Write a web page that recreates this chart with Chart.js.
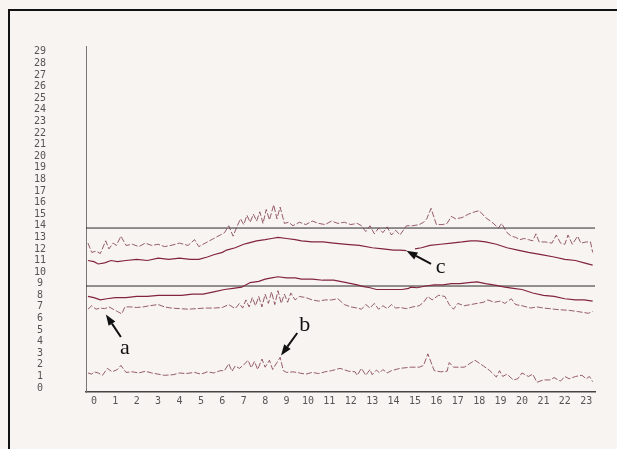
<!DOCTYPE html>
<html>
<head>
<meta charset="utf-8">
<script src="https://cdn.jsdelivr.net/npm/chart.js@4/dist/chart.umd.min.js"></script>
<style>
  html, body { margin: 0; padding: 0; background: #f8f4f2; }
  #wrap { width: 617px; height: 449px; position: relative; }
</style>
</head>
<body>
<div id="wrap"><canvas id="chart" width="617" height="449"></canvas></div>
<script>
// hours on the x axis, values as [hour, value]
const hourTicks = [0,1,2,3,4,5,6,7,8,9,10,11,12,13,14,15,16,17,18,19,20,21,22,23];
const valueTicks = [0,1,2,3,4,5,6,7,8,9,10,11,12,13,14,15,16,17,18,19,20,21,22,23,24,25,26,27,28,29];
const limitValues = [13.8, 8.8];

const upperNoisy = [[-0.28,12.5],[-0.1,11.7],[0.1,11.8],[0.3,11.6],[0.55,12.7],[0.7,12.0],[0.9,12.5],[1.05,12.3],[1.26,13.1],[1.5,12.3],[1.8,12.4],[2.1,12.2],[2.4,12.5],[2.7,12.3],[3.0,12.4],[3.3,12.2],[3.6,12.3],[4.0,12.5],[4.4,12.3],[4.7,12.8],[4.9,12.2],[5.3,12.6],[5.6,12.9],[5.9,13.2],[6.1,13.4],[6.3,14.0],[6.5,13.1],[6.7,14.0],[6.85,14.6],[7.0,14.1],[7.15,14.9],[7.3,14.3],[7.45,15.0],[7.6,14.4],[7.75,15.2],[7.9,14.2],[8.05,15.4],[8.2,14.5],[8.4,15.8],[8.55,14.6],[8.7,15.6],[8.9,14.2],[9.1,14.3],[9.3,14.0],[9.6,14.3],[9.9,14.1],[10.2,14.4],[10.5,14.2],[10.8,14.1],[11.1,14.4],[11.4,14.2],[11.7,14.3],[12.0,14.1],[12.3,14.2],[12.5,14.0],[12.7,13.5],[12.9,14.0],[13.1,13.3],[13.3,13.8],[13.5,13.4],[13.7,13.9],[13.9,13.2],[14.1,13.6],[14.3,13.2],[14.6,14.0],[14.9,14.0],[15.2,14.1],[15.4,14.3],[15.55,14.6],[15.75,15.5],[16.0,14.1],[16.3,14.1],[16.5,14.2],[16.7,14.8],[16.9,14.6],[17.2,14.7],[17.5,15.0],[17.8,15.2],[18.0,15.3],[18.3,14.7],[18.6,14.3],[18.9,13.8],[19.05,14.2],[19.3,13.4],[19.5,13.1],[19.7,13.0],[19.9,12.8],[20.1,12.9],[20.3,12.8],[20.5,12.7],[20.65,13.3],[20.8,12.6],[21.1,12.6],[21.4,12.5],[21.6,13.2],[21.8,12.5],[22.0,12.4],[22.15,13.2],[22.35,12.4],[22.6,13.1],[22.75,12.5],[23.0,12.6],[23.2,12.6],[23.3,11.7]];

const upperSmooth = [[-0.28,11.0],[0.0,10.9],[0.2,10.7],[0.5,10.8],[0.8,11.0],[1.1,10.9],[1.5,11.0],[2.0,11.1],[2.5,11.0],[3.0,11.2],[3.5,11.1],[4.0,11.2],[4.5,11.1],[4.9,11.1],[5.3,11.3],[5.6,11.5],[6.0,11.7],[6.2,11.9],[6.6,12.1],[7.0,12.4],[7.2,12.5],[7.6,12.7],[8.0,12.8],[8.3,12.9],[8.6,13.0],[9.0,12.9],[9.4,12.8],[9.7,12.7],[10.2,12.6],[10.7,12.6],[11.2,12.5],[11.8,12.4],[12.4,12.3],[13.0,12.1],[13.5,12.0],[14.0,11.9],[14.3,11.9],[14.6,11.85],[14.75,null],[15.0,12.0],[15.3,12.1],[15.7,12.3],[16.2,12.4],[16.7,12.5],[17.2,12.6],[17.6,12.7],[17.9,12.7],[18.3,12.6],[18.8,12.4],[19.3,12.1],[19.8,11.9],[20.3,11.7],[20.9,11.5],[21.5,11.3],[22.0,11.1],[22.5,11.0],[22.9,10.8],[23.3,10.6]];

const lowerSmooth = [[-0.28,7.9],[0.0,7.8],[0.3,7.6],[0.6,7.7],[1.0,7.8],[1.5,7.8],[2.0,7.9],[2.5,7.9],[3.0,8.0],[3.5,8.0],[4.1,8.0],[4.6,8.1],[5.1,8.1],[5.6,8.3],[6.1,8.5],[6.5,8.6],[6.9,8.7],[7.3,9.1],[7.7,9.2],[8.0,9.4],[8.3,9.5],[8.6,9.6],[9.0,9.5],[9.4,9.5],[9.7,9.4],[10.2,9.4],[10.7,9.3],[11.2,9.3],[11.8,9.1],[12.3,8.9],[12.6,8.75],[12.9,8.65],[13.2,8.5],[13.6,8.5],[14.0,8.5],[14.4,8.5],[14.7,8.6],[14.8,8.7],[15.1,8.65],[15.5,8.8],[15.9,8.9],[16.3,8.9],[16.7,9.0],[17.1,9.0],[17.5,9.1],[17.9,9.15],[18.3,9.0],[18.8,8.85],[19.2,8.7],[19.6,8.6],[20.0,8.5],[20.5,8.2],[21.0,8.0],[21.5,7.9],[22.0,7.7],[22.5,7.6],[22.9,7.6],[23.3,7.5]];

const lowerNoisy = [[-0.28,6.8],[-0.1,7.1],[0.1,6.8],[0.3,6.9],[0.5,6.85],[0.7,7.0],[0.9,6.8],[1.1,6.6],[1.3,6.4],[1.45,7.0],[1.7,7.0],[2.0,6.95],[2.3,7.0],[2.6,7.1],[3.0,7.2],[3.3,7.0],[3.6,6.9],[4.0,6.85],[4.4,6.8],[4.8,6.85],[5.2,6.9],[5.6,6.9],[6.0,6.95],[6.3,7.2],[6.6,6.85],[6.8,7.3],[6.95,6.9],[7.1,7.6],[7.25,7.0],[7.4,7.8],[7.55,7.1],[7.7,7.9],[7.85,7.0],[8.0,8.1],[8.15,7.3],[8.3,8.3],[8.45,7.2],[8.6,8.4],[8.75,7.3],[8.9,8.1],[9.05,7.4],[9.2,8.2],[9.4,7.6],[9.6,7.9],[9.9,7.8],[10.2,7.6],[10.5,7.5],[10.8,7.6],[11.1,7.6],[11.4,7.7],[11.7,7.2],[12.0,7.0],[12.3,6.9],[12.5,6.8],[12.7,7.2],[12.9,6.9],[13.1,7.3],[13.3,6.8],[13.5,7.1],[13.7,6.85],[13.9,7.2],[14.1,6.9],[14.3,6.95],[14.6,6.85],[14.9,7.0],[15.2,7.1],[15.4,7.4],[15.6,7.9],[15.8,7.6],[16.1,8.0],[16.4,7.9],[16.6,7.2],[16.8,6.8],[17.0,7.3],[17.3,7.1],[17.6,7.2],[17.9,7.3],[18.2,7.4],[18.4,7.6],[18.7,7.4],[19.0,7.5],[19.2,7.3],[19.5,7.7],[19.7,7.2],[20.0,7.1],[20.4,6.9],[20.7,7.0],[21.0,6.9],[21.3,6.85],[21.5,6.8],[21.8,6.75],[22.2,6.7],[22.6,6.6],[23.1,6.45],[23.3,6.6]];

const bottomNoisy = [[-0.28,1.3],[-0.1,1.2],[0.0,1.4],[0.2,1.3],[0.4,1.1],[0.63,1.7],[0.85,1.4],[1.1,1.6],[1.26,1.95],[1.5,1.35],[1.8,1.4],[2.1,1.3],[2.4,1.45],[2.7,1.3],[3.0,1.2],[3.3,1.1],[3.7,1.15],[4.0,1.3],[4.3,1.25],[4.7,1.35],[5.0,1.2],[5.3,1.4],[5.6,1.3],[5.9,1.5],[6.1,1.5],[6.3,2.1],[6.45,1.45],[6.6,1.9],[6.8,1.7],[7.0,2.0],[7.2,2.4],[7.35,1.75],[7.5,2.3],[7.65,1.6],[7.85,2.5],[8.0,1.8],[8.2,2.4],[8.35,1.6],[8.55,2.2],[8.7,2.65],[8.85,1.5],[9.0,1.35],[9.3,1.4],[9.6,1.3],[9.9,1.2],[10.2,1.35],[10.5,1.25],[10.8,1.4],[11.1,1.5],[11.5,1.7],[11.9,1.45],[12.2,1.4],[12.3,1.1],[12.5,1.7],[12.7,1.1],[12.9,1.6],[13.0,1.15],[13.2,1.55],[13.35,1.3],[13.5,1.6],[13.7,1.3],[13.9,1.5],[14.3,1.7],[14.8,1.8],[15.2,1.8],[15.4,1.95],[15.6,2.95],[15.9,1.5],[16.2,1.4],[16.5,1.45],[16.6,2.2],[16.8,1.8],[17.3,1.8],[17.8,2.4],[18.2,1.9],[18.5,1.5],[18.8,0.95],[18.95,1.5],[19.1,1.0],[19.3,1.2],[19.5,0.85],[19.6,0.7],[19.8,0.8],[20.0,1.3],[20.3,1.0],[20.5,1.2],[20.7,0.5],[21.0,0.7],[21.3,0.7],[21.5,0.9],[21.8,0.6],[22.0,1.0],[22.2,0.8],[22.5,1.0],[22.8,1.1],[23.0,0.8],[23.15,1.0],[23.3,0.55]];

// arrow callouts, in data units: tip, tail, letter
const callouts = [
  { text: "a", tip: [0.56, 6.35], tail: [1.26, 4.4], at: [1.45, 3.4] },
  { text: "b", tip: [8.74, 2.8], tail: [9.5, 4.75], at: [9.85, 5.4] },
  { text: "c", tip: [14.6, 11.85], tail: [15.75, 10.7], at: [16.2, 10.4] }
];

const xMin = -0.37, xMax = 23.41;
const yMin = -0.34, yMax = 29.5;

const toPts = arr => arr.map(p => ({ x: p[0], y: p[1] }));
const noisyColor = "rgba(125,55,72,0.8)";
const smoothColor = "#82243e";

function line(data, color, width, dash) {
  return { data: toPts(data), borderColor: color, borderWidth: width, borderDash: dash || [], pointRadius: 0, tension: 0, fill: false, spanGaps: false };
}

const datasets = [
  line(upperNoisy, noisyColor, 1, [6, 2]),
  line(upperSmooth, smoothColor, 1.2),
  line(lowerSmooth, smoothColor, 1.2),
  line(lowerNoisy, noisyColor, 1, [6, 2]),
  line(bottomNoisy, noisyColor, 1, [6, 2])
];
limitValues.forEach(v => {
  datasets.push(line([[xMin, v], [xMax, v]], "#2a2a2a", 1));
});

const paperPlugin = {
  id: "paper",
  beforeDraw(chart) {
    const c = chart.ctx;
    c.save();
    c.fillStyle = "#f8f4f2";
    c.fillRect(0, 0, chart.width, chart.height);
    c.strokeStyle = "#111";
    c.lineWidth = 2;
    c.beginPath();
    c.moveTo(9, chart.height);
    c.lineTo(9, 10);
    c.lineTo(chart.width, 10);
    c.stroke();
    c.restore();
  }
};

const calloutPlugin = {
  id: "callouts",
  afterDatasetsDraw(chart) {
    const c = chart.ctx, xs = chart.scales.x, ys = chart.scales.y;
    c.save();
    callouts.forEach(o => {
      const tx = xs.getPixelForValue(o.tip[0]), ty = ys.getPixelForValue(o.tip[1]);
      const sx = xs.getPixelForValue(o.tail[0]), sy = ys.getPixelForValue(o.tail[1]);
      const ang = Math.atan2(ty - sy, tx - sx);
      const head = 11, half = 4;
      const bx = tx - head * Math.cos(ang), by = ty - head * Math.sin(ang);
      c.strokeStyle = "#111";
      c.lineWidth = 2;
      c.beginPath();
      c.moveTo(sx, sy);
      c.lineTo(bx, by);
      c.stroke();
      c.fillStyle = "#111";
      c.beginPath();
      c.moveTo(tx, ty);
      c.lineTo(bx + half * Math.sin(ang), by - half * Math.cos(ang));
      c.lineTo(bx - half * Math.sin(ang), by + half * Math.cos(ang));
      c.closePath();
      c.fill();
      c.font = "22px 'Liberation Serif', serif";
      c.textAlign = "center";
      c.textBaseline = "middle";
      c.fillText(o.text, xs.getPixelForValue(o.at[0]), ys.getPixelForValue(o.at[1]));
    });
    c.restore();
  }
};

const tickFont = { family: "'DejaVu Sans Mono', monospace", size: 10 };

new Chart(document.getElementById("chart"), {
  type: "line",
  data: { datasets: datasets },
  options: {
    responsive: false,
    animation: false,
    layout: { padding: { left: 10, top: 40, right: 22, bottom: 43 } },
    plugins: { legend: { display: false }, tooltip: { enabled: false } },
    scales: {
      x: {
        type: "linear",
        min: xMin, max: xMax,
        afterBuildTicks: s => { s.ticks = hourTicks.map(v => ({ value: v })); },
        afterFit: s => { s.height = 14; },
        grid: { display: false, drawTicks: false },
        border: { display: true, color: "#444", width: 1.5 },
        ticks: { font: tickFont, color: "#555", padding: 3, autoSkip: false, maxRotation: 0, callback: v => v }
      },
      y: {
        type: "linear",
        min: yMin, max: yMax,
        afterBuildTicks: s => { s.ticks = valueTicks.map(v => ({ value: v })); },
        afterFit: s => { s.width = 76; },
        grid: { display: false, drawTicks: false },
        border: { display: true, color: "#777", width: 1 },
        ticks: { font: tickFont, color: "#555", padding: 40, crossAlign: "center", autoSkip: false, callback: v => v }
      }
    }
  },
  plugins: [paperPlugin, calloutPlugin]
});
</script>
</body>
</html>
